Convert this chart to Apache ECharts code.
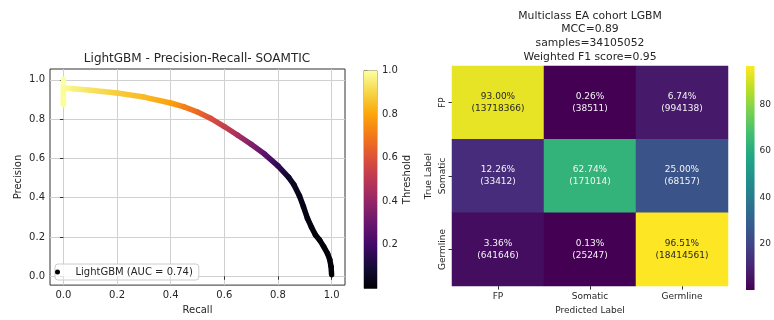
<!DOCTYPE html>
<html>
<head>
<meta charset="utf-8">
<script src="https://cdn.jsdelivr.net/npm/echarts@6/dist/echarts.min.js"></script>
<style>
html, body { margin: 0; padding: 0; background: #ffffff; }
#chart { width: 774px; height: 320px; }
</style>
</head>
<body>
<div id="chart"></div>
<script>
// Precision-recall curve of the LightGBM model, each point with its decision threshold
const recall    = [0.000, 0.000, 0.000, 0.040, 0.100, 0.200, 0.300, 0.400, 0.450, 0.500, 0.550, 0.600, 0.650, 0.700, 0.750, 0.800, 0.840, 0.860, 0.880, 0.895, 0.910, 0.925, 0.940, 0.955, 0.970, 0.985, 0.993, 0.998, 1.000];
const precision = [1.003, 0.874, 0.958, 0.955, 0.947, 0.933, 0.912, 0.882, 0.862, 0.836, 0.803, 0.762, 0.718, 0.672, 0.622, 0.562, 0.503, 0.465, 0.410, 0.355, 0.295, 0.250, 0.210, 0.185, 0.152, 0.115, 0.085, 0.050, 0.008];
const threshold = [1.000, 0.995, 0.990, 0.960, 0.930, 0.880, 0.845, 0.790, 0.720, 0.660, 0.590, 0.530, 0.450, 0.360, 0.270, 0.160, 0.075, 0.050, 0.038, 0.030, 0.024, 0.019, 0.015, 0.012, 0.010, 0.007, 0.005, 0.004, 0.002];
const curveName = 'LightGBM (AUC = 0.74)';
const prTicks = [0, 0.2, 0.4, 0.6, 0.8, 1.0];
const thresholdTicks = [0.2, 0.4, 0.6, 0.8, 1.0];

// Confusion matrix (rows: true label, columns: predicted label)
const classes = ['FP', 'Somatic', 'Germline'];
const rowPercent = [
  [93.00, 0.26, 6.74],
  [12.26, 62.74, 25.00],
  [3.36, 0.13, 96.51]
];
const rowCounts = [
  [13718366, 38511, 994138],
  [33412, 171014, 68157],
  [641646, 25247, 18414561]
];
const heatTicks = [20, 40, 60, 80];
const heatMin = 0.13;
const heatMax = 96.51;

// Colormaps
const inferno = ['#000004', '#160b39', '#420a68', '#6a176e', '#932667', '#bc3754',
                 '#dd513a', '#f37819', '#fca50a', '#f6d746', '#fcffa4'];
const viridis = ['#440154', '#482475', '#414487', '#355f8d', '#2a788e', '#21918c',
                 '#22a884', '#44bf70', '#7ad151', '#bddf26', '#fde725'];

const FONT = 'DejaVu Sans';
const INK = '#262626';

function gradientStops(colors) {
  // top of the bar = highest value
  const n = colors.length - 1;
  return colors.map((c, i) => ({ offset: 1 - i / n, color: c }));
}

function colorbarSeries(gridIdx, lo, hi, colors) {
  return {
    type: 'custom',
    xAxisIndex: gridIdx,
    yAxisIndex: gridIdx,
    silent: true,
    data: [[0, hi]],
    renderItem: function (params, api) {
      const a = api.coord([0, hi]);
      const b = api.coord([1, lo]);
      return {
        type: 'rect',
        shape: { x: a[0], y: a[1], width: b[0] - a[0], height: b[1] - a[1] },
        style: { fill: new echarts.graphic.LinearGradient(0, 0, 0, 1, gradientStops(colors)) }
      };
    }
  };
}

const heatData = [];
rowPercent.forEach((row, r) => {
  row.forEach((v, c) => {
    heatData.push({
      value: [c, r, v],
      label: { color: v > 80 ? INK : '#f4f4f4' }
    });
  });
});

const chart = echarts.init(document.getElementById('chart'), null, { renderer: 'canvas' });

chart.setOption({
  animation: false,
  textStyle: { fontFamily: FONT },
  title: [
    {
      text: 'LightGBM - Precision-Recall- SOAMTIC',
      left: 197, top: 53, padding: 0, textAlign: 'center',
      textStyle: { fontFamily: FONT, fontSize: 12, fontWeight: 'normal', color: INK }
    },
    {
      text: 'Multiclass EA cohort LGBM\nMCC=0.89\nsamples=34105052\nWeighted F1 score=0.95',
      left: 590, top: 9, padding: 0, textAlign: 'center',
      textStyle: { fontFamily: FONT, fontSize: 10.8, lineHeight: 13.7, fontWeight: 'normal', color: INK }
    }
  ],
  legend: {
    data: [{ name: curveName, icon: 'circle', itemStyle: { color: '#000000' } }],
    left: 55, top: 264,
    itemWidth: 26, itemHeight: 5,
    padding: [3, 6, 3, 0],
    backgroundColor: 'rgba(255,255,255,0.85)',
    borderColor: '#cccccc', borderWidth: 1, borderRadius: 3,
    selectedMode: false,
    textStyle: { fontFamily: FONT, fontSize: 10, color: INK }
  },
  visualMap: [
    { type: 'continuous', show: false, seriesIndex: 0, dimension: 2, min: 0, max: 1, inRange: { color: inferno } },
    { type: 'continuous', show: false, seriesIndex: 1, dimension: 2, min: heatMin, max: heatMax, inRange: { color: viridis } }
  ],
  grid: [
    { left: 50, top: 69, width: 295, height: 219, show: true, borderColor: '#333333', borderWidth: 1, backgroundColor: 'transparent' },
    { left: 452, top: 66, width: 276, height: 224 },
    { left: 364, top: 70.5, width: 13, height: 218, show: true, borderColor: '#666666', borderWidth: 0.8, backgroundColor: 'transparent' },
    { left: 746, top: 66, width: 11, height: 224 }
  ],
  xAxis: [
    {
      type: 'value', gridIndex: 0, min: -0.05, max: 1.05,
      name: 'Recall', nameLocation: 'middle', nameGap: 18,
      nameTextStyle: { fontFamily: FONT, fontSize: 10, color: INK },
      axisLine: { show: false },
      axisTick: { show: true, length: 3.5, customValues: prTicks, lineStyle: { color: '#333333' } },
      axisLabel: { customValues: prTicks, margin: 5, fontSize: 10, color: INK, fontFamily: FONT,
                   formatter: v => v.toFixed(1) },
      splitLine: { show: true, lineStyle: { color: '#d0d0d0', width: 1 } }
    },
    {
      type: 'category', gridIndex: 1, data: classes,
      name: 'Predicted Label', nameLocation: 'middle', nameGap: 19,
      nameTextStyle: { fontFamily: FONT, fontSize: 9, color: INK },
      axisLine: { show: false },
      axisTick: { show: true, alignWithLabel: true, length: 3.5, lineStyle: { color: '#333333' } },
      axisLabel: { margin: 6, fontSize: 9, color: INK, fontFamily: FONT },
      splitLine: { show: false }
    },
    { type: 'value', gridIndex: 2, min: 0, max: 1, show: false },
    { type: 'value', gridIndex: 3, min: 0, max: 1, show: false }
  ],
  yAxis: [
    {
      type: 'value', gridIndex: 0, min: -0.045, max: 1.055,
      name: 'Precision', nameLocation: 'middle', nameGap: 27, nameRotate: 90,
      nameTextStyle: { fontFamily: FONT, fontSize: 10, color: INK },
      axisLine: { show: false },
      axisTick: { show: true, length: 3.5, customValues: prTicks, lineStyle: { color: '#333333' } },
      axisLabel: { customValues: prTicks, margin: 5, fontSize: 10, color: INK, fontFamily: FONT,
                   formatter: v => v.toFixed(1) },
      splitLine: { show: true, lineStyle: { color: '#d0d0d0', width: 1 } }
    },
    {
      type: 'category', gridIndex: 1, data: classes, inverse: true,
      name: 'True Label', nameLocation: 'middle', nameGap: 19, nameRotate: 90,
      nameTextStyle: { fontFamily: FONT, fontSize: 9, color: INK },
      axisLine: { show: false },
      axisTick: { show: true, alignWithLabel: true, length: 3.5, lineStyle: { color: '#333333' } },
      axisLabel: { rotate: 90, margin: 5, fontSize: 9, color: INK, fontFamily: FONT },
      splitLine: { show: false }
    },
    {
      type: 'value', gridIndex: 2, min: 0, max: 1, position: 'right',
      name: 'Threshold', nameLocation: 'middle', nameGap: 25, nameRotate: 90,
      nameTextStyle: { fontFamily: FONT, fontSize: 10, color: INK },
      axisLine: { show: false },
      axisTick: { show: true, length: 3.5, customValues: thresholdTicks, lineStyle: { color: '#333333' } },
      axisLabel: { customValues: thresholdTicks, margin: 5, fontSize: 10, color: INK, fontFamily: FONT,
                   formatter: v => v.toFixed(1) },
      splitLine: { show: false }
    },
    {
      type: 'value', gridIndex: 3, min: heatMin, max: heatMax, position: 'right',
      axisLine: { show: false },
      axisTick: { show: true, length: 3.5, customValues: heatTicks, lineStyle: { color: '#333333' } },
      axisLabel: { customValues: heatTicks, margin: 5, fontSize: 9, color: INK, fontFamily: FONT },
      splitLine: { show: false }
    }
  ],
  series: [
    {
      // PR curve coloured by threshold, drawn as gradient segments
      type: 'custom',
      name: curveName,
      xAxisIndex: 0, yAxisIndex: 0,
      data: recall.map((r, i) => [r, precision[i], threshold[i]]),
      encode: { x: 0, y: 1 },
      z: 3,
      renderItem: function (params, api) {
        const i = params.dataIndexInside;
        const p1 = api.coord([api.value(0), api.value(1)]);
        const c1 = api.visual('color');
        if (i === 0) {
          return { type: 'circle', shape: { cx: p1[0], cy: p1[1], r: 2.2 }, style: { fill: c1 } };
        }
        const p0 = api.coord([api.value(0, i - 1), api.value(1, i - 1)]);
        const c0 = api.visual('color', i - 1);
        return {
          type: 'line',
          shape: { x1: p0[0], y1: p0[1], x2: p1[0], y2: p1[1] },
          style: {
            stroke: new echarts.graphic.LinearGradient(p0[0], p0[1], p1[0], p1[1],
              [{ offset: 0, color: c0 }, { offset: 1, color: c1 }], true),
            lineWidth: 5.5,
            lineCap: 'round'
          }
        };
      }
    },
    {
      type: 'heatmap',
      xAxisIndex: 1, yAxisIndex: 1,
      data: heatData,
      label: {
        show: true,
        fontFamily: FONT,
        fontSize: 9,
        lineHeight: 12,
        formatter: function (p) {
          const c = p.value[0], r = p.value[1];
          return p.value[2].toFixed(2) + '%\n(' + rowCounts[r][c] + ')';
        }
      },
      itemStyle: { borderWidth: 0 },
      emphasis: { disabled: true }
    },
    colorbarSeries(2, 0, 1, inferno),
    colorbarSeries(3, heatMin, heatMax, viridis)
  ]
});
</script>
</body>
</html>
